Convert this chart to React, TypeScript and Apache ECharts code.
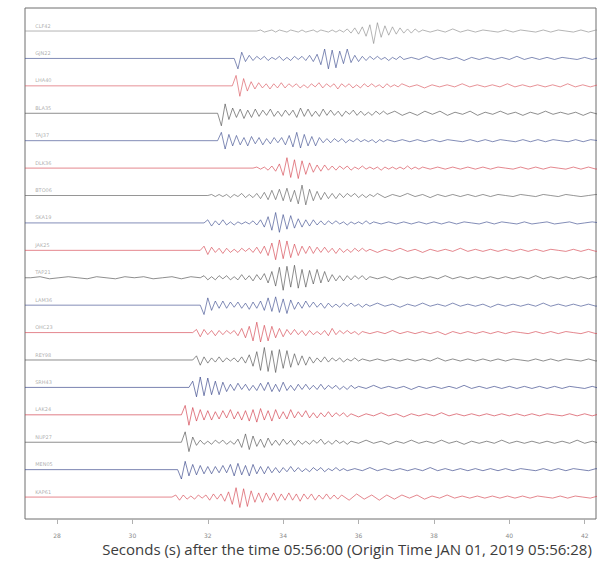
import React, { useEffect, useRef } from "react";
import * as echarts from "echarts";

const X_MIN = 27.15;
const X_MAX = 42.3;
const AMP = 0.038; // one amplitude unit ≈ 1 px
const BURST_STEP = 0.1;
const CODA_STEP = 0.2;
const PRE_STEP = 0.25;

const TICK_START = 28;
const TICK_STEP = 2;

const stations = [
  "CLF42", "GJN22", "LHA40", "BLA35", "TAJ37", "DLK36", "BTO06", "SKA19", "JAK25",
  "TAP21", "LAM36", "OHC23", "REY98", "SRH43", "LAK24", "NUP27", "MEN05", "KAP61",
];

const traceColors = [
  "#8a8a8a", "#3c4b8e", "#d9535c", "#4d4d4d", "#3c4b8e", "#d4424d", "#5a5a5a", "#3c4b8e", "#d4424d",
  "#4d4d4d", "#3c4b8e", "#d4424d", "#4d4d4d", "#2f3d85", "#cf3543", "#4d4d4d", "#2f3d85", "#d4424d",
];

// P-wave onset (s) for each station
const onsets = [
  33.2, 32.7, 32.65, 32.26, 32.26, 33.2, 32.0, 31.9, 31.8,
  31.8, 31.8, 31.6, 31.6, 31.5, 31.3, 31.3, 31.2, 31.05,
];

// samples every 0.1 s after the onset (positive = up)
const bursts: number[][] = [
  [0,1,-1,0,1,-1,1,0,-1,1,0,-1,1,-1,0,1,-1,1,0,-1,1,-1,1,-1,2,-2,3,-3,4,-5,6,-12,8,-6,5,-4,4,-3,3,-2,2,-2,2,-1,1],
  [-10,6,-3,3,-2,2,-1,2,-2,1,-1,2,-2,1,-2,2,-1,2,-2,3,-3,4,-6,9,-10,8,-9,7,-5,9,-4,3,-3,2,-2,2,-1,2,-1,1,-2,1,-1,2,-1],
  [10,-10,7,-5,4,-3,3,-2,2,-3,2,-2,3,-2,2,-1,2,-2,1,-2,2,-1,3,-2,2,-1,2,-3,2,-1,2,-2,1,-2,2,-1,2,-1,1,-2,2,-1,1,-1,2],
  [-12,9,-6,5,-4,4,-5,3,-4,4,-3,3,-2,4,-3,2,-3,3,-2,3,-4,5,-3,4,-3,2,-3,4,-2,3,-2,2,-3,2,-1,3,-2,2,-2,1,-2,2,-1,2,-1],
  [8,-8,6,-5,5,-4,3,-5,4,-3,3,-4,2,-3,3,-2,3,-4,5,-6,8,-7,6,-5,4,-5,3,-2,2,-2,2,-1,2,-2,1,-1,2,-1,1,-1,1,-2,1,-1,1],
  [1,-1,1,-2,2,-3,4,-7,10,-9,8,-10,7,-6,5,-4,3,-3,3,-2,2,-2,2,-1,2,-2,1,-1,2,-1,1,-1,1,-2,1,-1,1,-1,1,-1,2,-1,1,-1,1],
  [1,-1,1,-1,1,-2,1,-1,2,-2,1,-2,2,-3,3,-4,5,-4,6,-5,7,-6,5,-8,10,-9,6,-5,4,-4,3,-3,2,-3,2,-2,2,-1,2,-2,1,-2,1,-1,2],
  [3,-3,2,-2,3,-2,1,-2,1,-1,1,-1,2,-2,3,-4,6,-7,10,-9,8,-6,7,-5,4,-4,3,-3,3,-2,2,-2,2,-1,2,-1,1,-2,1,-1,1,-1,2,-1,1],
  [4,-4,3,-2,2,-3,2,-2,1,-2,2,-1,2,-2,3,-3,4,-5,7,-9,10,-8,9,-7,6,-5,4,-3,4,-3,3,-2,3,-2,2,-3,2,-2,1,-2,2,-1,2,-1,1],
  [2,-2,1,-2,2,-1,2,-2,1,-2,3,-2,2,-3,3,-2,4,-5,6,-8,10,-12,11,-9,12,-10,8,-9,7,-6,8,-5,6,-4,3,-3,2,-3,2,-2,2,-1,2,-2,1],
  [-9,7,-5,4,-3,4,-3,3,-2,3,-3,2,-4,3,-3,4,-5,7,-6,8,-7,6,-8,5,-4,3,-3,4,-2,3,-2,2,-3,2,-2,1,-2,2,-1,2,-1,1,-2,1,-1],
  [3,-4,3,-2,2,-3,2,-2,2,-1,2,-3,4,-5,6,-8,10,-9,7,-8,6,-5,4,-4,3,-2,3,-2,2,-3,2,-2,1,-2,2,-3,4,-2,2,-1,2,-1,1,-2,1],
  [4,-5,3,-3,2,-2,3,-2,2,-1,2,-2,3,-3,5,-6,8,-10,12,-11,9,-12,10,-8,9,-7,6,-5,4,-5,3,-3,2,-2,3,-2,2,-1,2,-2,1,-1,2,-1,1],
  [6,-9,10,-8,9,-7,6,-7,5,-4,3,-3,4,-2,3,-3,2,-3,4,-3,5,-4,3,-4,5,-3,2,-3,3,-2,3,-2,2,-2,3,-2,2,-1,2,-2,1,-2,2,-1,1],
  [9,-10,7,-6,5,-5,4,-5,3,-4,4,-3,5,-4,3,-5,4,-6,5,-7,6,-5,4,-6,5,-4,3,-4,5,-3,3,-2,4,-3,2,-3,2,-2,3,-2,2,-1,2,-2,1],
  [10,-9,5,-3,2,-2,1,-2,2,-1,2,-2,1,-2,3,-5,8,-7,6,-4,3,-5,4,-3,2,-3,3,-2,2,-3,2,-2,1,-2,2,-1,3,-2,1,-2,2,-1,1,-2,1],
  [-9,8,-6,5,-5,4,-4,3,-4,3,-3,4,-3,5,-6,6,-5,4,-6,5,-4,3,-4,3,-3,2,-3,2,-2,3,-2,2,-2,1,-2,2,-1,2,-2,1,-1,2,-1,1,-1],
  [2,-3,2,-2,1,-2,2,-1,2,-3,3,-2,3,-4,5,-7,9,-10,8,-9,6,-5,4,-5,4,-3,4,-4,3,-3,4,-3,3,-4,3,-2,3,-3,2,-2,3,-2,2,-2,2],
];

// coda samples every 0.2 s after the burst
const codas: number[][] = [
  [-1,1,-1,2,-1,1,-1,1,0,-1,1,-1,1,0,-1,1,-1,1,0,-1,1,-1,1,0,-1,1,-1,1,0,-1,1,-1,1,0,-1],
  [1,-1,2,-1,1,-1,1,-2,1,-1,1,-1,1,-1,2,-1,1,-1,1,-1,1,0,-1,1,-1,1,-1,1,0,-1,1,-1,1,0,-1],
  [-1,1,-2,1,-1,1,-1,2,-1,1,-1,1,-1,2,-1,1,-1,1,-1,1,-1,2,-1,1,-1,1,-1,1,-1,1,-1,1,-1,1,-1],
  [2,-2,1,-2,2,-1,2,-2,1,-1,2,-2,1,-1,2,-1,1,-2,1,-1,2,-1,1,-1,1,-2,1,-1,1,-1,2,-1,1,-1,1],
  [-1,1,-1,1,-1,1,-1,1,0,-1,1,-1,1,-1,1,0,-1,1,-1,1,-1,1,0,-1,1,-1,1,0,-1,1,-1,1,0,-1,1],
  [-1,1,-1,1,-1,1,-1,1,-1,1,0,-1,1,-1,1,-1,1,0,-1,1,-1,1,-1,1,0,-1,1,-1,1,0,-1,1,-1,1,0],
  [-2,1,-1,2,-1,1,-2,1,-1,1,-1,1,-1,1,-1,1,0,-1,1,0,-1,1,0,-1,1,0,-1,0,1,0,-1,1,0,-1,0],
  [-1,1,-1,1,-1,1,-1,1,-1,1,-1,1,0,-1,1,-1,1,0,-1,1,-1,0,1,-1,0,1,-1,0,1,0,-1,1,0,-1,0],
  [-2,1,-1,2,-1,1,-2,1,-1,1,-1,2,-1,1,-1,1,-1,1,-1,1,-1,1,-1,1,0,-1,1,-1,1,-1,1,0,-1,1,-1],
  [-1,1,-2,1,-1,1,-1,1,-1,2,-1,1,-1,1,-1,1,-1,1,-1,1,-1,2,-1,1,-1,1,-1,1,-1,1,-1,1,-1,1,-1],
  [2,-1,1,-2,1,-1,2,-1,1,-1,2,-1,1,-1,1,-2,1,-1,1,-1,1,-1,2,-1,1,-1,1,-1,1,-1,1,-1,1,-1,1],
  [-1,1,-1,2,-1,1,-1,1,-1,1,-2,1,-1,1,-1,1,-1,1,-1,1,0,-1,1,-1,1,-1,1,0,-1,1,-1,1,0,-1,1],
  [-1,1,-1,1,-1,1,-1,1,-1,2,-1,1,-1,1,-1,1,-1,1,-1,1,0,-1,1,-1,1,-1,1,0,-1,1,-1,1,0,-1,1],
  [-1,2,-1,1,-1,1,-2,1,-1,1,-1,1,-1,2,-1,1,-1,1,-1,1,-1,1,-1,1,-1,1,-1,1,0,-1,1,-1,1,-1,1],
  [-2,1,-1,2,-1,1,-2,1,-1,1,-1,2,-1,1,-1,1,-1,1,-1,1,-1,1,-1,1,-1,1,0,-1,1,-1,1,-1,1,0,-1],
  [-1,2,-1,1,-2,1,-1,2,-1,1,-1,2,-1,1,-2,1,-1,1,-1,2,-1,1,-1,1,-1,1,-1,1,-1,2,-1,1,-1,1,-1],
  [1,-1,2,-1,1,-1,1,-1,1,-1,2,-1,1,-1,1,-1,1,-1,1,-1,1,-1,1,0,-1,1,-1,1,-1,1,0,-1,1,-1,1],
  [-3,3,-2,2,-3,2,-2,2,-1,2,-2,1,-1,2,-1,1,-1,1,-1,1,-1,1,-1,1,-1,1,0,-1,1,-1,1,0,-1,1,0],
];

// background noise before the onset (every 0.25 s), only TAP21 shows it
const preNoise: Record<string, number[]> = {
  TAP21: [0,1,-1,0,1,0,-1,1,0,-1,1,0,1,-1,0,1,-1,1],
};

const axisTitle = "Seconds (s) after the time 05:56:00 (Origin Time JAN 01, 2019 05:56:28)";

function buildTrace(i: number): number[][] {
  const off = stations.length - 1 - i;
  const onset = onsets[i];
  const pts: number[][] = [];
  const pre = preNoise[stations[i]] || [];
  pts.push([X_MIN, off]);
  pre.forEach((a, j) => {
    const t = onset - (pre.length - j) * PRE_STEP;
    if (t > X_MIN) pts.push([t, off + a * AMP]);
  });
  pts.push([onset, off]);
  const b = bursts[i];
  b.forEach((a, j) => pts.push([onset + (j + 1) * BURST_STEP, off + a * AMP]));
  const codaStart = onset + b.length * BURST_STEP;
  codas[i].forEach((a, j) => pts.push([codaStart + (j + 1) * CODA_STEP, off + a * AMP]));
  return pts;
}

const GRID_LEFT = 25;
const GRID_RIGHT = 2;
const PLOT_W = 598 - GRID_LEFT - GRID_RIGHT;

export default function App() {
  const ref = useRef<HTMLDivElement>(null);
  useEffect(() => {
    if (!ref.current) return;
    const chart = echarts.init(ref.current, null, { renderer: "svg" });
    const n = stations.length;
    const pxPerSec = PLOT_W / (X_MAX - X_MIN);
    const tickGridLeft = GRID_LEFT + (TICK_START - X_MIN) * pxPerSec;
    const lineSeries = stations.map((name, i) => ({
      type: "line",
      name,
      xAxisIndex: 0,
      yAxisIndex: 0,
      data: buildTrace(i),
      showSymbol: false,
      silent: true,
      clip: true,
      lineStyle: { color: traceColors[i], width: 0.75, opacity: 0.85 },
      z: 2,
    }));
    const labelSeries = {
      type: "scatter",
      xAxisIndex: 0,
      yAxisIndex: 0,
      symbolSize: 0,
      silent: true,
      data: stations.map((name, i) => ({
        value: [27.42, n - 1 - i + 0.2],
        name,
      })),
      label: {
        show: true,
        position: "right",
        distance: 0,
        formatter: (p: any) => p.name,
        fontSize: 5,
        color: "#9a9a9a",
        fontFamily: "DejaVu Sans",
      },
      z: 3,
    };
    chart.setOption({
      animation: false,
      backgroundColor: "#ffffff",
      grid: [
        {
          left: GRID_LEFT,
          right: GRID_RIGHT,
          top: 8,
          bottom: 43,
          show: true,
          borderColor: "#6e6e6e",
          borderWidth: 1,
          backgroundColor: "transparent",
        },
        {
          left: tickGridLeft,
          right: GRID_RIGHT,
          top: 8,
          bottom: 43,
          show: false,
        },
      ],
      xAxis: [
        {
          type: "value",
          gridIndex: 0,
          min: X_MIN,
          max: X_MAX,
          show: false,
        },
        {
          type: "value",
          gridIndex: 1,
          min: TICK_START,
          max: X_MAX,
          interval: TICK_STEP,
          offset: 3,
          axisLine: { show: false },
          splitLine: { show: false },
          axisTick: {
            show: true,
            length: 5,
            lineStyle: { color: "#b0b0b0", width: 1 },
          },
          axisLabel: {
            fontSize: 6,
            color: "#8a8a8a",
            margin: 10,
            fontFamily: "DejaVu Sans",
            showMaxLabel: false,
          },
        },
      ],
      yAxis: [
        {
          type: "value",
          gridIndex: 0,
          min: -0.8,
          max: n - 1 + 0.84,
          show: false,
        },
        {
          type: "value",
          gridIndex: 1,
          min: 0,
          max: 1,
          show: false,
        },
      ],
      graphic: [
        {
          type: "text",
          x: 347,
          y: 549,
          style: {
            text: axisTitle,
            fill: "#3c3c3c",
            font: "15px 'Open Sans'",
            textAlign: "center",
            textVerticalAlign: "middle",
          },
        },
      ],
      series: [...lineSeries, labelSeries],
    });
    return () => chart.dispose();
  }, []);
  return (
    <div
      ref={ref}
      style={{ position: "fixed", left: 0, top: 0, width: 598, height: 562, background: "#fff" }}
    />
  );
}
